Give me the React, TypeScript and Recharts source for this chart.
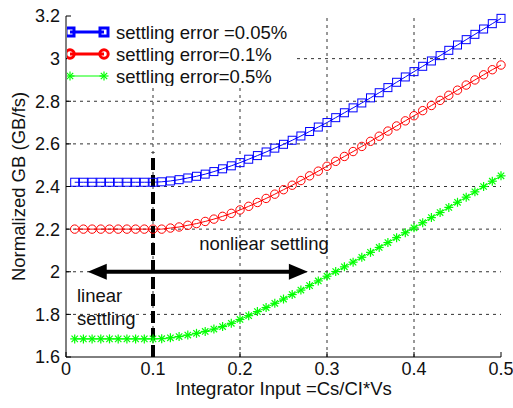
import React from 'react';
import { LineChart, Line, XAxis, YAxis, ReferenceLine, ReferenceDot, Legend } from 'recharts';

const xs = [
  0.01, 0.02, 0.03, 0.04, 0.05, 0.06, 0.07, 0.08, 0.09, 0.1,
  0.11, 0.12, 0.13, 0.14, 0.15, 0.16, 0.17, 0.18, 0.19, 0.2,
  0.21, 0.22, 0.23, 0.24, 0.25, 0.26, 0.27, 0.28, 0.29, 0.3,
  0.31, 0.32, 0.33, 0.34, 0.35, 0.36, 0.37, 0.38, 0.39, 0.4,
  0.41, 0.42, 0.43, 0.44, 0.45, 0.46, 0.47, 0.48, 0.49, 0.5,
];

// settling error = 0.05%
const err005 = [
  2.42, 2.42, 2.42, 2.42, 2.42, 2.42, 2.42, 2.42, 2.42, 2.42,
  2.422, 2.426, 2.432, 2.44, 2.448, 2.458, 2.47, 2.483, 2.497, 2.512,
  2.528, 2.545, 2.562, 2.58, 2.598, 2.617, 2.637, 2.658, 2.679, 2.7,
  2.723, 2.746, 2.769, 2.792, 2.816, 2.84, 2.864, 2.889, 2.914, 2.939,
  2.964, 2.989, 3.014, 3.039, 3.064, 3.089, 3.114, 3.139, 3.164, 3.189,
];

// settling error = 0.1%
const err01 = [
  2.2, 2.2, 2.2, 2.2, 2.2, 2.2, 2.2, 2.2, 2.2, 2.2,
  2.2, 2.205, 2.21, 2.218, 2.226, 2.236, 2.247, 2.26, 2.274, 2.29,
  2.307, 2.325, 2.344, 2.364, 2.385, 2.406, 2.428, 2.45, 2.472, 2.495,
  2.518, 2.541, 2.564, 2.588, 2.612, 2.636, 2.66, 2.684, 2.708, 2.732,
  2.756, 2.78, 2.804, 2.828, 2.852, 2.876, 2.9, 2.924, 2.948, 2.97,
];

// settling error = 0.5%
const err05 = [
  1.685, 1.685, 1.685, 1.685, 1.685, 1.685, 1.685, 1.685, 1.685, 1.685,
  1.686, 1.69, 1.696, 1.703, 1.711, 1.72, 1.731, 1.743, 1.758, 1.776,
  1.794, 1.813, 1.832, 1.852, 1.872, 1.893, 1.914, 1.935, 1.957, 1.979,
  2.001, 2.023, 2.045, 2.068, 2.091, 2.114, 2.137, 2.16, 2.183, 2.206,
  2.23, 2.254, 2.278, 2.302, 2.326, 2.35, 2.375, 2.4, 2.425, 2.45,
];

const xTicks = [0, 0.1, 0.2, 0.3, 0.4, 0.5];
const yTicks = [1.6, 1.8, 2, 2.2, 2.4, 2.6, 2.8, 3, 3.2];

const data = xs.map((x, i) => ({ x, a: err005[i], b: err01[i], c: err05[i] }));

const BLUE = '#0000ff';
const RED = '#ff0000';
const GREEN = '#00ff00';
const FONT = '"Liberation Sans", Arial, sans-serif';
const GRID = { stroke: '#333', strokeDasharray: '3 4', strokeWidth: 1 };

const Square = ({ cx, cy, color, w = 1 }: any) => (
  <rect x={cx - 4} y={cy - 4} width={8} height={8} fill="none" stroke={color} strokeWidth={w} />
);

const Circle = ({ cx, cy, color, w = 1 }: any) => (
  <circle cx={cx} cy={cy} r={4.2} fill="none" stroke={color} strokeWidth={w} />
);

const Star = ({ cx, cy, color }: any) => {
  const s = 4.5;
  const d = 3.2;
  return (
    <g stroke={color} strokeWidth={1.2}>
      <line x1={cx - s} y1={cy} x2={cx + s} y2={cy} />
      <line x1={cx} y1={cy - s} x2={cx} y2={cy + s} />
      <line x1={cx - d} y1={cy - d} x2={cx + d} y2={cy + d} />
      <line x1={cx - d} y1={cy + d} x2={cx + d} y2={cy - d} />
    </g>
  );
};

const legendRows = [
  { label: 'settling error =0.05%', color: BLUE, w: 3, Mark: Square },
  { label: 'settling error=0.1%', color: RED, w: 3, Mark: Circle },
  { label: 'settling error=0.5%', color: GREEN, w: 1, Mark: Star },
];

const LegendBox = () => (
  <svg width={227} height={69} style={{ display: 'block', background: '#fff' }}>
    {legendRows.map((r, i) => {
      const y = 15 + i * 22;
      return (
        <g key={r.label}>
          <line x1={3} y1={y} x2={37} y2={y} stroke={r.color} strokeWidth={r.w} />
          <r.Mark cx={3} cy={y} color={r.color} w={r.w} />
          <r.Mark cx={37} cy={y} color={r.color} w={r.w} />
          <text x={49} y={y} dy="0.36em" fontSize={18.5} fontFamily={FONT} fill="#111">
            {r.label}
          </text>
        </g>
      );
    })}
  </svg>
);

const Arrow = (p: any) => {
  const { x1, y1, x2 } = p;
  const L = 19;
  const H = 8;
  const left = Math.min(x1, x2);
  const right = Math.max(x1, x2);
  return (
    <g>
      <line x1={left + L - 1} y1={y1} x2={right - L + 1} y2={y1} stroke="#000" strokeWidth={4} />
      <polygon points={`${left},${y1} ${left + L},${y1 - H} ${left + L},${y1 + H}`} fill="#000" />
      <polygon points={`${right},${y1} ${right - L},${y1 - H} ${right - L},${y1 + H}`} fill="#000" />
    </g>
  );
};

const TextAt = (label: string, anchor: string) => (p: any) => (
  <text x={p.cx} y={p.cy} dy="0.36em" textAnchor={anchor} fontSize={18.5} fontFamily={FONT} fill="#111">
    {label}
  </text>
);

export default function App() {
  return (
    <div style={{ position: 'absolute', left: 0, top: 0, width: 513, height: 408, background: '#fff' }}>
      <LineChart
        width={513}
        height={408}
        data={data}
        margin={{ top: 16, right: 12, bottom: 0, left: 0 }}
        style={{ fontFamily: FONT }}
      >
        <XAxis
          dataKey="x"
          type="number"
          domain={[0, 0.5]}
          ticks={xTicks}
          height={51}
          stroke="#000"
          tickSize={-5}
          tickMargin={10}
          tick={{ fontSize: 18, fill: '#111', fontFamily: FONT }}
          label={{ value: 'Integrator Input =Cs/CI*Vs', position: 'center', dy: 6, fontSize: 18.5, fill: '#111', fontFamily: FONT }}
        />
        <XAxis xAxisId="top" dataKey="x" type="number" orientation="top" domain={[0, 0.5]} ticks={xTicks} height={0} stroke="#000" tickSize={-5} tick={false} />
        <YAxis
          type="number"
          domain={[1.6, 3.2]}
          ticks={yTicks}
          width={66}
          stroke="#000"
          tickSize={-5}
          tickMargin={11}
          tick={{ fontSize: 18, fill: '#111', fontFamily: FONT }}
          label={{ value: 'Normalized GB (GB/fs)', angle: -90, position: 'center', dx: -15, fontSize: 18.5, fill: '#111', fontFamily: FONT }}
        />
        <YAxis yAxisId="right" type="number" orientation="right" domain={[1.6, 3.2]} ticks={yTicks} width={0} stroke="#000" tickSize={-5} tick={false} />

        {xTicks.slice(1, -1).map((v) => (
          <ReferenceLine key={`gx${v}`} x={v} {...GRID} />
        ))}
        {yTicks.slice(1, -1).map((v) => (
          <ReferenceLine key={`gy${v}`} y={v} {...GRID} />
        ))}

        <Line dataKey="a" stroke={BLUE} strokeWidth={1} isAnimationActive={false}
          dot={(p: any) => <Square key={`a${p.index}`} cx={p.cx} cy={p.cy} color={BLUE} />} />
        <Line dataKey="b" stroke={RED} strokeWidth={1} isAnimationActive={false}
          dot={(p: any) => <Circle key={`b${p.index}`} cx={p.cx} cy={p.cy} color={RED} />} />
        <Line dataKey="c" stroke={GREEN} strokeWidth={1} isAnimationActive={false}
          dot={(p: any) => <Star key={`c${p.index}`} cx={p.cx} cy={p.cy} color={GREEN} />} />

        <ReferenceLine segment={[{ x: 0.1, y: 1.6 }, { x: 0.1, y: 2.56 }]} stroke="#000" strokeWidth={4} strokeDasharray="12 5" />
        <ReferenceLine segment={[{ x: 0.025, y: 2 }, { x: 0.278, y: 2 }]} shape={Arrow} />
        <ReferenceDot x={0.2276} y={2.133} r={0} shape={TextAt('nonliear settling', 'middle')} />
        <ReferenceDot x={0.0126} y={1.89} r={0} shape={TextAt('linear', 'start')} />
        <ReferenceDot x={0.0126} y={1.782} r={0} shape={TextAt('settling', 'start')} />

        <Legend
          layout="vertical"
          align="center"
          verticalAlign="middle"
          content={() => <LegendBox />}
          wrapperStyle={{ top: 17, left: 67, width: 227, height: 69 }}
        />
      </LineChart>
    </div>
  );
}
